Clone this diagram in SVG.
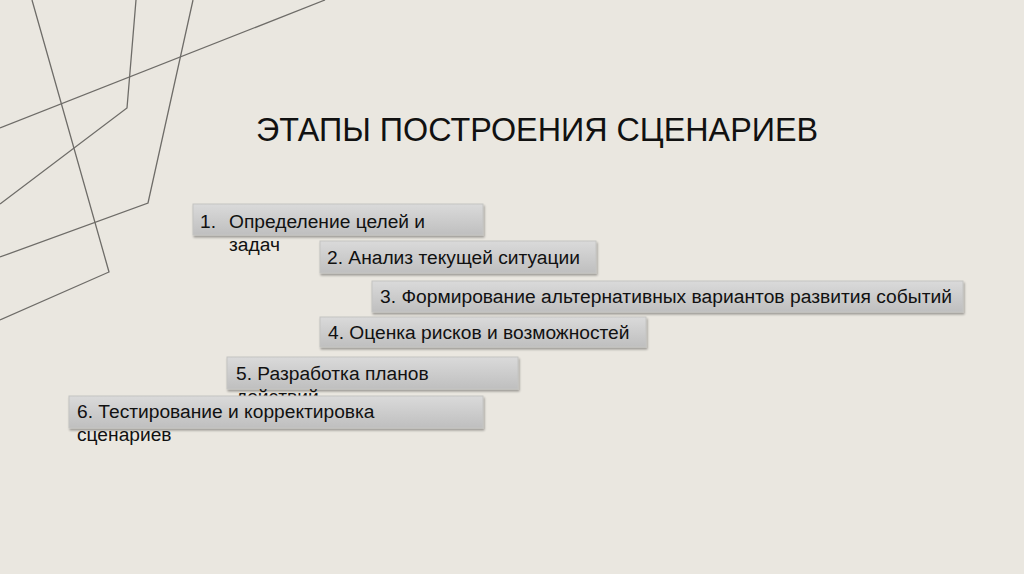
<svg xmlns="http://www.w3.org/2000/svg" width="1024" height="574" viewBox="0 0 1024 574">
<defs>
<linearGradient id="g" x1="0" y1="0" x2="0" y2="1">
<stop offset="0" stop-color="#dadada"/>
<stop offset="1" stop-color="#bfbfbf"/>
</linearGradient>
<filter id="sh" x="-5%" y="-20%" width="110%" height="150%">
<feGaussianBlur in="SourceAlpha" stdDeviation="1.2"/>
<feOffset dx="1" dy="1.5" result="b"/>
<feComponentTransfer><feFuncA type="linear" slope="0.35"/></feComponentTransfer>
<feMerge><feMergeNode/><feMergeNode in="SourceGraphic"/></feMerge>
</filter>
</defs>
<style>
.ln{fill:none;stroke:#6e6c68;stroke-width:1.3}
.box{fill:url(#g);stroke:#c4c4c2;stroke-width:1;filter:url(#sh)}
.t{font-family:"Liberation Sans",Arial,sans-serif;font-size:19.2px;fill:#111}
.title{font-family:"Liberation Sans",Arial,sans-serif;font-size:34px;fill:#111}
</style>
<rect width="1024" height="574" fill="#eae7e0"/>
<g id="decor">
<polyline class="ln" points="32,0 109,272 0,320"/>
<polyline class="ln" points="136,0 127,108 0,204"/>
<polyline class="ln" points="193,0 148,203 0,257"/>
<line class="ln" x1="325" y1="0" x2="0" y2="128"/>
</g>
<g id="title">
<text class="title" x="256" y="141" textLength="562" lengthAdjust="spacingAndGlyphs">ЭТАПЫ ПОСТРОЕНИЯ СЦЕНАРИЕВ</text>
</g>
<g id="connectors"></g>
<g id="node1">
<rect class="box" x="193" y="204" width="290" height="31"/>
<text class="t" x="200" y="228">1.</text>
<text class="t" x="229" y="228">Определение целей и</text>
<text class="t" x="229" y="251">задач</text>
</g>
<g id="node2">
<rect class="box" x="320" y="241" width="276" height="32"/>
<text class="t" x="327" y="264">2. Анализ текущей ситуации</text>
</g>
<g id="node3">
<rect class="box" x="372" y="281" width="591" height="31"/>
<text class="t" x="380" y="303" textLength="572" lengthAdjust="spacingAndGlyphs">3. Формирование альтернативных вариантов развития событий</text>
</g>
<g id="node4">
<rect class="box" x="320" y="317" width="326" height="30"/>
<text class="t" x="328" y="339">4. Оценка рисков и возможностей</text>
</g>
<g id="node5">
<rect class="box" x="227" y="357" width="291" height="32"/>
<text class="t" x="236" y="380">5. Разработка планов</text>
<text class="t" x="236" y="403">действий</text>
</g>
<g id="node6">
<rect class="box" x="69" y="396" width="414" height="32"/>
<text class="t" x="77" y="418">6. Тестирование и корректировка</text>
<text class="t" x="77" y="441">сценариев</text>
</g>
</svg>
